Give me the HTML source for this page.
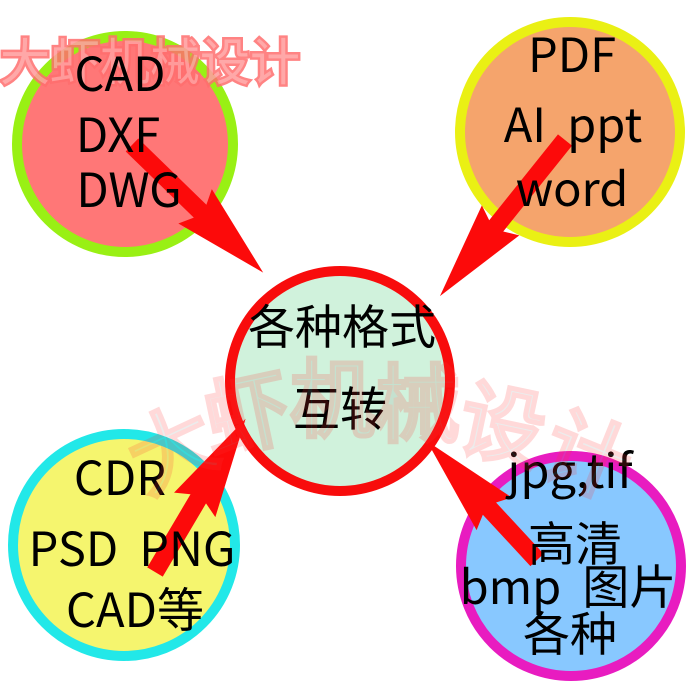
<!DOCTYPE html>
<html><head><meta charset="utf-8"><style>
html,body{margin:0;padding:0;background:#fff;width:700px;height:700px;overflow:hidden}
.t{font-family:"Noto Sans CJK SC","Liberation Sans",sans-serif;font-size:47px;fill:#000}
</style></head><body>
<svg width="700" height="700" viewBox="0 0 700 700" xmlns="http://www.w3.org/2000/svg">
<circle cx="125" cy="144" r="108" fill="#f77" stroke="#99f014" stroke-width="10"/>
<circle cx="570" cy="132" r="110" fill="#f5a46c" stroke="#eaf014" stroke-width="10"/>
<circle cx="124" cy="545" r="111" fill="#f5f56e" stroke="#22e8e8" stroke-width="10"/>
<circle cx="571" cy="566" r="110" fill="#88c8ff" stroke="#e81cc0" stroke-width="10"/>
<circle cx="340" cy="381" r="110" fill="#d0f2dc" stroke="#f80c0c" stroke-width="10"/>

<g fill="#fc0a0a">
<polygon points="0,-9 95,-9 88,-24 183,0 88,24 95,9 0,9" transform="translate(132,145) rotate(44.2)"/>
<polygon points="0,-9 110,-9 103,-24 200,0 103,24 110,9 0,9" transform="translate(565,140) rotate(128.7)"/>
<polygon points="0,-9 85,-9 78,-24 178,0 78,24 85,9 0,9" transform="translate(155,572) rotate(-59.4)"/>
<polygon points="0,-9 70,-9 63,-24 162,0 63,24 70,9 0,9" transform="translate(537,560) rotate(-132.8)"/>
</g>

<text x="0" y="80" font-size="50" fill="none" stroke="#ff6e6e" stroke-width="5" opacity="0.85" style="font-family:'Noto Sans CJK SC',sans-serif">大虾机械设计</text>
<text x="0" y="80" font-size="50" fill="#ffffff" opacity="0.3" style="font-family:'Noto Sans CJK SC',sans-serif">大虾机械设计</text>

<g text-anchor="middle">
<text class="t" x="120" y="91">CAD</text>
<text class="t" x="118" y="152">DXF</text>
<text class="t" x="129" y="207">DWG</text>
<text class="t" x="572" y="72">PDF</text>
<text class="t" x="573" y="142">AI&#160;&#160;ppt</text>
<text class="t" x="572" y="206">word</text>
<text class="t" x="342" y="344">各种格式</text>
<text class="t" x="340" y="426">互转</text>
<text class="t" x="120" y="495">CDR</text>
<text class="t" x="132" y="566">PSD&#160;&#160;PNG</text>
<text class="t" x="135" y="627">CAD等</text>
<text class="t" x="570" y="488">jpg,tif</text>
<text class="t" x="575" y="561">高清</text>
<text class="t" x="568" y="604">bmp&#160;&#160;图片</text>
<text class="t" x="570" y="651">各种</text>
</g>

<g opacity="0.18" style="font-family:'Noto Sans CJK SC',sans-serif" font-size="85" fill="#999" stroke="#f33" stroke-width="5">
<text x="130" y="480" transform="rotate(-25 170 450)">大</text>
<text x="205" y="445" transform="rotate(-12 245 415)">虾</text>
<text x="290" y="430">机</text>
<text x="375" y="435">械</text>
<text x="460" y="455" transform="rotate(12 500 425)">设</text>
<text x="545" y="485" transform="rotate(22 585 455)">计</text>
</g>
</svg>
</body></html>
